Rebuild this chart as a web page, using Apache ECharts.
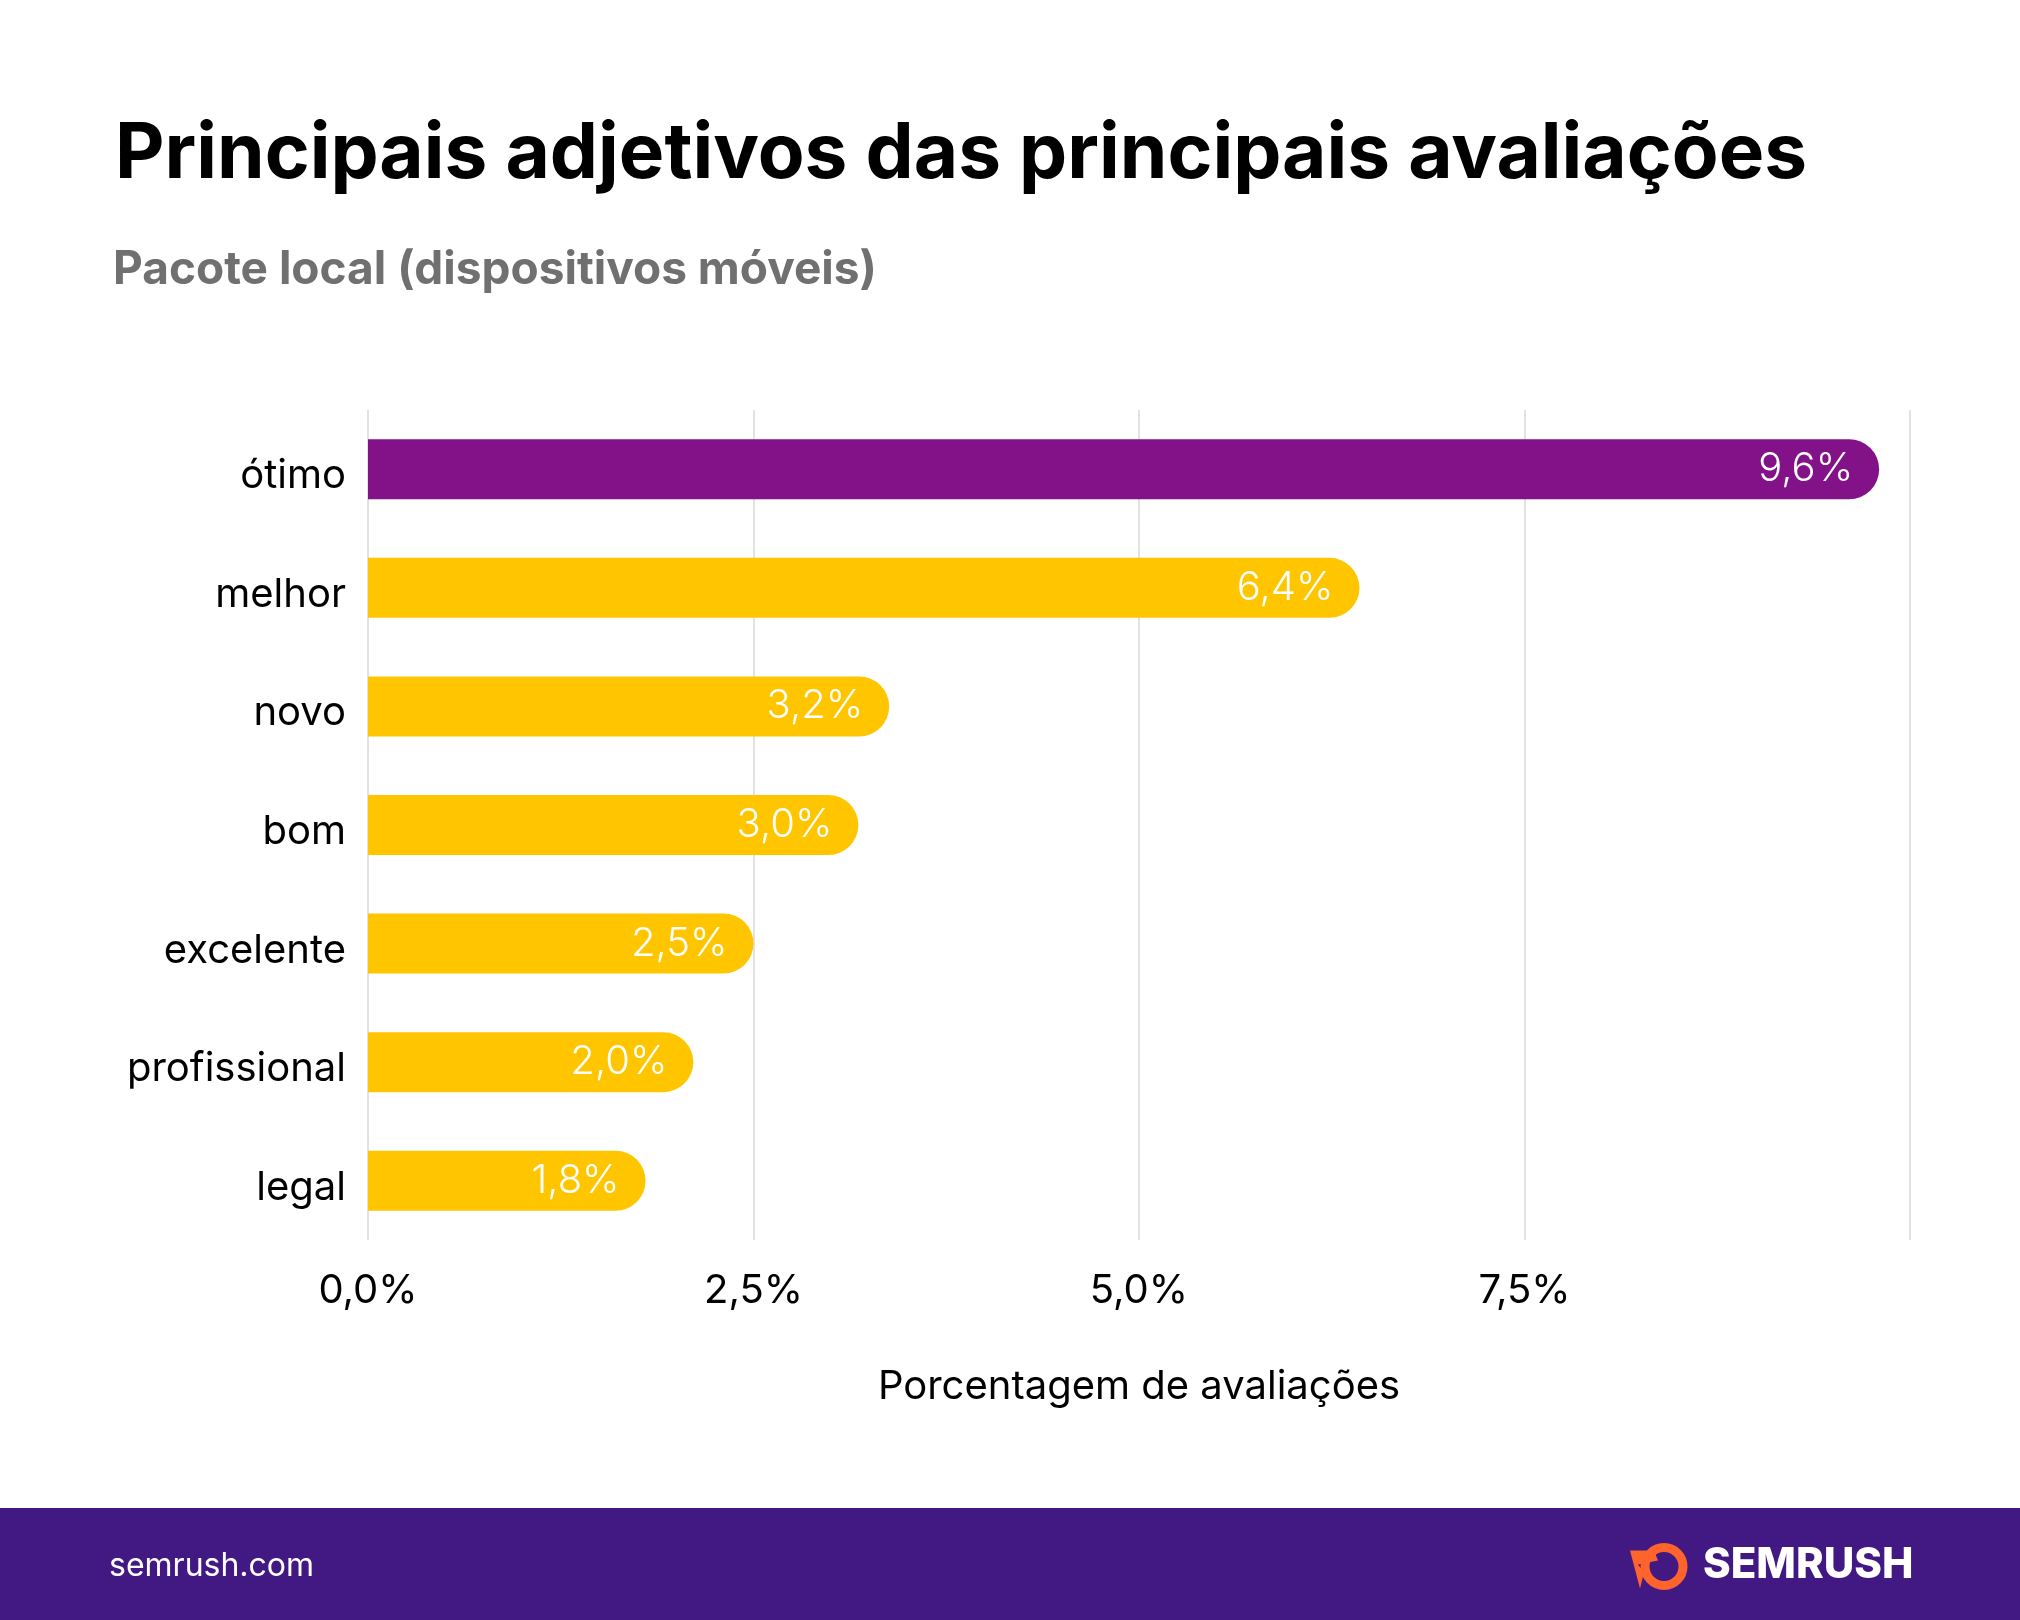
<!DOCTYPE html>
<html>
<head>
<meta charset="utf-8">
<script src="https://cdn.jsdelivr.net/npm/echarts@6/dist/echarts.min.js"></script>
<style>
html,body{margin:0;padding:0;background:#fff;}
#chart{width:2020px;height:1620px;}
</style>
</head>
<body>
<div id="chart"></div>
<script>
const categories = ['ótimo','melhor','novo','bom','excelente','profissional','legal'];
const barValues = [9.8, 6.43, 3.38, 3.18, 2.5, 2.11, 1.8];
const valueLabels = ['9,6%','6,4%','3,2%','3,0%','2,5%','2,0%','1,8%'];
const barColors = ['#831187','#FFC600','#FFC600','#FFC600','#FFC600','#FFC600','#FFC600'];
const axisMin = 0, axisMax = 10, axisStep = 2.5;
const titleText = 'Principais adjetivos das principais avaliações';
const subtitleText = 'Pacote local (dispositivos móveis)';
const axisName = 'Porcentagem de avaliações';
const footerText = 'semrush.com';
const logoText = 'SEMRUSH';

const FONT = 'Inter, "Noto Sans", sans-serif';
const chart = echarts.init(document.getElementById('chart'), null, {renderer:'canvas'});

const fmt = v => v.toFixed(1).replace('.', ',') + '%';

chart.setOption({
  backgroundColor:'#ffffff',
  animation:false,
  title:[
    {text:titleText, left:110, top:111,
     textStyle:{fontFamily:FONT, fontWeight:700, fontSize:76.5, color:'#000000'}},
    {text:subtitleText, left:108, top:242,
     textStyle:{fontFamily:FONT, fontWeight:700, fontSize:46, color:'#707070'}}
  ],
  grid:{left:368, right:110, top:410, bottom:380, containLabel:false},
  xAxis:{
    type:'value', min:axisMin, max:axisMax, interval:axisStep,
    axisLine:{show:false}, axisTick:{show:false},
    splitLine:{show:true, lineStyle:{color:'#e2e2e2', width:2}},
    axisLabel:{formatter:(v)=> v>=axisMax ? '' : fmt(v), margin:31,
      fontFamily:FONT, fontSize:40, color:'#000000'},
    name:axisName, nameLocation:'middle', nameGap:127,
    nameTextStyle:{fontFamily:FONT, fontSize:40, color:'#000000'}
  },
  yAxis:{
    type:'category', data:categories, inverse:true,
    axisLine:{show:false}, axisTick:{show:false}, splitLine:{show:false},
    axisLabel:{margin:22, formatter:(v)=>'{c|'+v+'}',
      rich:{c:{fontFamily:FONT, fontSize:40, color:'#000000', padding:[14,0,0,0]}}}
  },
  series:[{
    type:'bar', barWidth:60,
    data:barValues.map((v,i)=>({value:v, itemStyle:{color:barColors[i]}})),
    itemStyle:{borderRadius:[0,30,30,0]},
    label:{show:true, position:'insideRight', distance:26,
      formatter:(p)=>valueLabels[p.dataIndex],
      fontFamily:FONT, fontWeight:300, fontSize:40, color:'#ffffff'}
  }],
  graphic:[
    {type:'rect', left:0, top:1508, shape:{width:2020, height:112}, style:{fill:'#421983'}, silent:true},
    {type:'text', left:109, top:1550, style:{text:footerText, fill:'#ffffff', font:'32px '+FONT}},
    {type:'group', left:1630, top:1543, children:[
      {type:'circle', shape:{cx:34, cy:24, r:19}, style:{fill:'none', stroke:'#FF642D', lineWidth:9}},
      {type:'polygon', shape:{points:[[0,8],[24,8],[28,18],[8,22],[14,30],[10,46]]}, style:{fill:'#FF642D'}},
      {type:'circle', shape:{cx:36, cy:24, r:7}, style:{fill:'#421983'}}
    ]},
    {type:'text', left:1703, top:1544, style:{text:logoText, fill:'#ffffff', font:'800 42px '+FONT}}
  ]
});
</script>
</body>
</html>
